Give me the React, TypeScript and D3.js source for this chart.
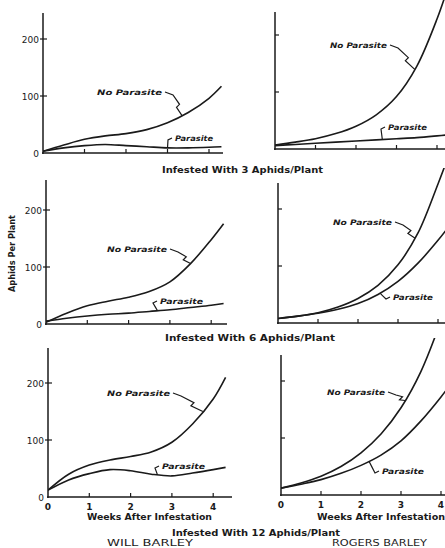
import React from "react";
import * as d3 from "d3";

// ---- data (aphids per plant) ----
const WEEKS = [0, 0.5, 1, 1.5, 2, 2.5, 3, 3.5, 4, 4.3];

const willNoPar3 = [3, 14, 24, 30, 34, 41, 53, 71, 96, 117];
const willPar3 = [3, 9, 13, 15, 13, 11, 9, 9, 10, 11];
const rogersNoPar3 = [7, 12, 18, 27, 40, 60, 92, 145, 228, 290];
const rogersPar3 = [6, 8, 10, 12, 14, 16, 18, 20, 23, 25];

const willNoPar6 = [3, 19, 32, 40, 47, 57, 74, 106, 148, 176];
const willPar6 = [5, 10, 14, 17, 19, 22, 25, 29, 33, 36];
const rogersNoPar6 = [8, 12, 18, 28, 43, 66, 102, 158, 244, 300];
const rogersPar6 = [8, 12, 17, 24, 34, 50, 73, 105, 145, 172];

const willNoPar12 = [12, 40, 56, 65, 71, 79, 96, 128, 172, 210];
const willPar12 = [12, 30, 41, 48, 46, 40, 37, 42, 48, 52];
const rogersNoPar12 = [12, 21, 33, 50, 74, 107, 153, 217, 306, 370];
const rogersPar12 = [12, 19, 27, 38, 52, 70, 95, 130, 172, 200];

const Y_TICKS = [0, 100, 200];
const X_TICKS = [0, 1, 2, 3, 4];
const GROUP_TITLES = [
  "Infested With 3 Aphids/Plant",
  "Infested With 6 Aphids/Plant",
  "Infested With 12 Aphids/Plant",
];
const X_TITLE = "Weeks After Infestation";
const Y_TITLE = "Aphids Per Plant";
const VARIETIES = ["WILL BARLEY", "ROGERS BARLEY"];
const LBL_NO = "No Parasite";
const LBL_PAR = "Parasite";

// ---- layout ----
type Panel = {
  x0: number; y0: number; top: number; wk: number; xEnd: number; clipTop: number;
  noPar: number[]; par: number[];
  yLabels: boolean; xLabels: boolean;
  noLab: [number, number]; noLen: number; noTarget: number;
  parLab: [number, number]; parLen: number; parTarget: number;
};

const panels: Panel[] = [
  { x0: 43, y0: 153, top: 13, wk: 41.5, xEnd: 223, clipTop: 0, noPar: willNoPar3, par: willPar3,
    yLabels: true, xLabels: false, noLab: [97, 92], noLen: 65, noTarget: 3.35, parLab: [175, 138], parLen: 38, parTarget: 3.0 },
  { x0: 275, y0: 149, top: 12, wk: 40.5, xEnd: 450, clipTop: 0, noPar: rogersNoPar3, par: rogersPar3,
    yLabels: false, xLabels: false, noLab: [330, 45], noLen: 57, noTarget: 3.45, parLab: [388, 127], parLen: 39, parTarget: 2.65 },
  { x0: 46, y0: 324, top: 180, wk: 41.3, xEnd: 227, clipTop: 0, noPar: willNoPar6, par: willPar6,
    yLabels: true, xLabels: false, noLab: [107, 249], noLen: 60, noTarget: 3.5, parLab: [160, 301], parLen: 43, parTarget: 2.7 },
  { x0: 278, y0: 323, top: 183, wk: 40, xEnd: 450, clipTop: 168, noPar: rogersNoPar6, par: rogersPar6,
    yLabels: false, xLabels: false, noLab: [333, 222], noLen: 59, noTarget: 3.42, parLab: [393, 297], parLen: 40, parTarget: 2.55 },
  { x0: 48, y0: 497, top: 348, wk: 41.3, xEnd: 232, clipTop: 0, noPar: willNoPar12, par: willPar12,
    yLabels: true, xLabels: true, noLab: [107, 393], noLen: 63, noTarget: 3.75, parLab: [162, 466], parLen: 43, parTarget: 2.65 },
  { x0: 281, y0: 495, top: 355, wk: 40, xEnd: 450, clipTop: 338, noPar: rogersNoPar12, par: rogersPar12,
    yLabels: false, xLabels: true, noLab: [327, 392], noLen: 58, noTarget: 3.1, parLab: [382, 471], parLen: 42, parTarget: 2.2 },
];

const INK = "#1a1a1a";
const FONT = "'DejaVu Sans', 'Liberation Sans', sans-serif";

function interp(vals: number[], x: number) {
  const i = d3.bisectRight(WEEKS, x) - 1;
  const j = Math.min(i + 1, WEEKS.length - 1);
  if (i === j) return vals[i];
  const t = (x - WEEKS[i]) / (WEEKS[j] - WEEKS[i]);
  return vals[i] + t * (vals[j] - vals[i]);
}

function PanelView({ p, idx }: { p: Panel; idx: number }) {
  const xs = d3.scaleLinear().domain([0, 1]).range([p.x0, p.x0 + p.wk]);
  const ys = d3.scaleLinear().domain([0, 100]).range([p.y0, p.y0 - 57]);
  const line = d3
    .line<number>()
    .x((_, i) => xs(WEEKS[i]))
    .y((d) => ys(d))
    .curve(d3.curveCatmullRom.alpha(0.5));
  const clipId = `clip${idx}`;
  const noY = ys(interp(p.noPar, p.noTarget));
  const noX = xs(p.noTarget);
  const parY = ys(interp(p.par, p.parTarget));
  const parX = xs(p.parTarget);
  const nlEnd = p.noLab[0] + p.noLen + 3;
  const plStart = p.parLab[0] - 3;
  const mx = (nlEnd + 8 + noX) / 2;
  const my = (p.noLab[1] + 3 + noY) / 2;
  return (
    <g>
      <defs>
        <clipPath id={clipId}>
          <rect x={p.x0} y={p.clipTop} width={p.xEnd - p.x0 + 20} height={p.y0 - p.clipTop + 2} />
        </clipPath>
      </defs>
      {/* axes */}
      <line x1={p.x0} y1={p.top} x2={p.x0} y2={p.y0 + 1} stroke={INK} strokeWidth={1.5} />
      <line x1={p.x0 - 1} y1={p.y0} x2={p.xEnd} y2={p.y0} stroke={INK} strokeWidth={1.5} />
      {Y_TICKS.filter((t) => t > 0).map((t) => (
        <line key={t} x1={p.yLabels ? p.x0 - 3 : p.x0} y1={ys(t)} x2={p.x0 + 4} y2={ys(t)} stroke={INK} strokeWidth={1.2} />
      ))}
      {X_TICKS.filter((t) => t > 0).map((t) => (
        <line key={t} x1={xs(t)} y1={p.y0} x2={xs(t)} y2={p.y0 - 4} stroke={INK} strokeWidth={1.2} />
      ))}
      {p.yLabels &&
        Y_TICKS.map((t) => (
          <text key={t} x={p.x0 - 4} y={ys(t) + 3.5} textAnchor="end" fontSize={9} fontFamily={FONT} fill={INK}>
            {t}
          </text>
        ))}
      {p.xLabels &&
        X_TICKS.map((t) => (
          <text key={t} x={xs(t)} y={p.y0 + 13} textAnchor="middle" fontSize={9} fontWeight="bold" fontFamily={FONT} fill={INK}>
            {t}
          </text>
        ))}
      {/* curves */}
      <g clipPath={`url(#${clipId})`}>
        <path d={line(p.noPar) || ""} fill="none" stroke={INK} strokeWidth={1.6} />
        <path d={line(p.par) || ""} fill="none" stroke={INK} strokeWidth={1.6} />
      </g>
      {/* labels */}
      <text x={p.noLab[0]} y={p.noLab[1] + 3} fontSize={7.5} fontWeight="bold" fontStyle="italic" fontFamily={FONT}
        fill={INK} textLength={p.noLen} lengthAdjust="spacingAndGlyphs">{LBL_NO}</text>
      <polyline
        points={`${nlEnd},${p.noLab[1]} ${nlEnd + 8},${p.noLab[1] + 3} ${mx + 2},${my - 1} ${mx - 1},${my + 2} ${noX},${noY}`}
        fill="none" stroke={INK} strokeWidth={1.2} />
      <text x={p.parLab[0]} y={p.parLab[1] + 3} fontSize={7.5} fontWeight="bold" fontStyle="italic" fontFamily={FONT}
        fill={INK} textLength={p.parLen} lengthAdjust="spacingAndGlyphs">{LBL_PAR}</text>
      <polyline
        points={`${plStart},${p.parLab[1]} ${plStart - 4},${p.parLab[1] + 2} ${(plStart - 4 + parX) / 2},${(p.parLab[1] + 2 + parY) / 2} ${parX},${parY}`}
        fill="none" stroke={INK} strokeWidth={1.2} />
    </g>
  );
}

export default function App() {
  const titleStyle = { fontFamily: FONT, fontWeight: "bold" as const, fill: INK };
  return (
    <svg width={445} height={548} style={{ position: "absolute", left: 0, top: 0, background: "#fff" }}>
      <rect width={445} height={548} fill="#fff" />
      {panels.map((p, i) => (
        <PanelView key={i} p={p} idx={i} />
      ))}
      <text x={162} y={173} fontSize={8} {...titleStyle} textLength={161} lengthAdjust="spacingAndGlyphs">{GROUP_TITLES[0]}</text>
      <text x={165} y={341} fontSize={8} {...titleStyle} textLength={170} lengthAdjust="spacingAndGlyphs">{GROUP_TITLES[1]}</text>
      <text x={172} y={536} fontSize={8} {...titleStyle} textLength={168} lengthAdjust="spacingAndGlyphs">{GROUP_TITLES[2]}</text>
      <text x={87} y={520} fontSize={8} {...titleStyle} textLength={125} lengthAdjust="spacingAndGlyphs">{X_TITLE}</text>
      <text x={317} y={520} fontSize={8} {...titleStyle} textLength={128} lengthAdjust="spacingAndGlyphs">{X_TITLE}</text>
      <text x={107} y={546} fontSize={9} fontFamily={FONT} fill={INK} textLength={86} lengthAdjust="spacingAndGlyphs">{VARIETIES[0]}</text>
      <text x={332} y={546} fontSize={9} fontFamily={FONT} fill={INK} textLength={95} lengthAdjust="spacingAndGlyphs">{VARIETIES[1]}</text>
      <text transform="translate(15,292) rotate(-90)" x={0} y={0} fontSize={8} {...titleStyle} textLength={77} lengthAdjust="spacingAndGlyphs">{Y_TITLE}</text>
    </svg>
  );
}
